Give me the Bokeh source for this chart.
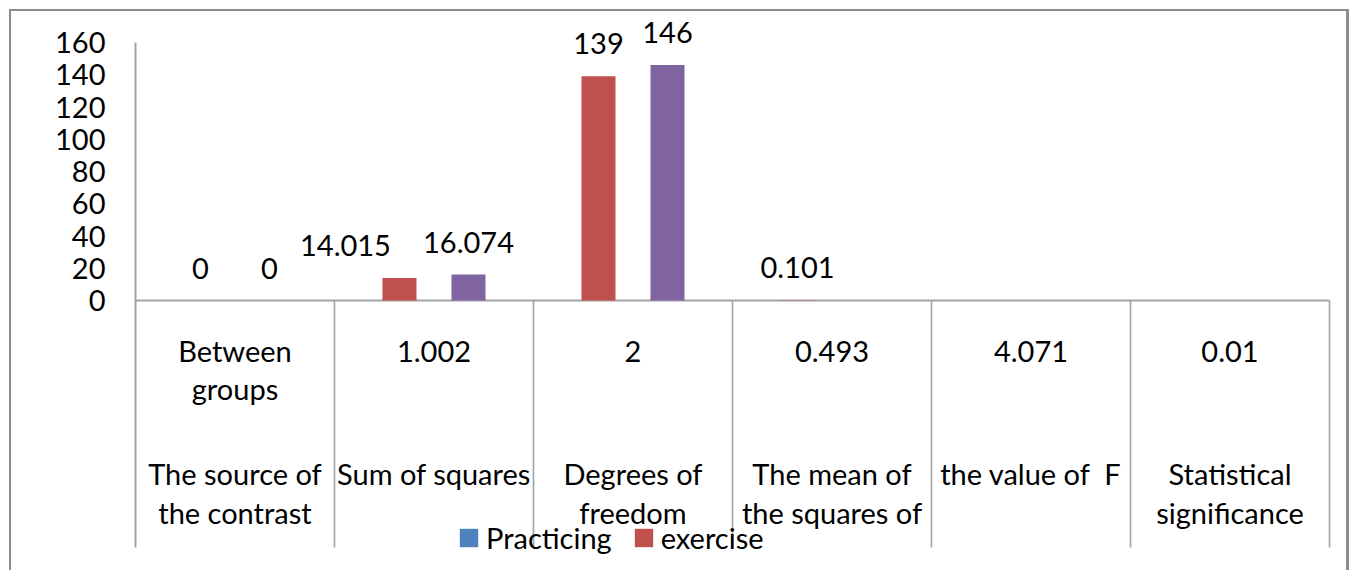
import math
from bokeh.plotting import figure
from bokeh.core.properties import value
from bokeh.models import (ColumnDataSource, FactorRange, Range1d, FixedTicker, LabelSet,
                          Legend, LegendItem)
from bokeh.transform import dodge
from bokeh.embed import file_html
from bokeh.resources import INLINE

nan = float("nan")

# ---- data ----
categories = ["The source of\nthe contrast", "Sum of squares", "Degrees of\nfreedom",
              "The mean of\nthe squares of", "the value of  F", "Statistical\nsignificance"]
practicing_row = ["Between\ngroups", "1.002", "2", "0.493", "4.071", "0.01"]
practicing = [nan, nan, nan, nan, nan, nan]
exercise = [0, 14.015, 139, 0.101, nan, nan]
third_series = [0, 16.074, 146, nan, nan, nan]
y_ticks = [0, 20, 40, 60, 80, 100, 120, 140, 160]

FONT = "Lato"
FS = "29px"
LINE = "#a3a3a3"
BLUE, RED, PURPLE = "#4F81BD", "#C0504D", "#8064A2"

factors = [c.replace("\n", " ") for c in categories]
K = 258 / 160.0              # px per unit
Y_TOP = 160 + 27 / K         # room above for the data labels
Y_BOTTOM = -265 / K          # room below for the legend
Y_TABLE = -247 / K           # bottom of the table lines
PAD = 0.02

p = figure(width=1349, height=570, output_backend="svg", toolbar_location=None,
           x_range=FactorRange(factors=factors, range_padding=PAD, range_padding_units="absolute"),
           y_range=Range1d(Y_BOTTOM, Y_TOP),
           min_border_left=131, min_border_right=16, min_border_top=15, min_border_bottom=5)
p.styles = {"box-shadow": "inset 9px 9px 0 0 #ffffff, inset 11px 11px 0 0 #8c8c8c, "
                          "inset -3px 0 0 0 #8c8c8c"}
p.border_fill_color = None
p.background_fill_color = None
p.outline_line_color = None
p.xgrid.visible = False
p.ygrid.visible = False
p.xaxis.visible = False

ax = p.yaxis[0]
ax.ticker = FixedTicker(ticks=y_ticks)
ax.axis_line_color = None
ax.major_tick_line_color = None
ax.minor_tick_line_color = None
ax.major_tick_out = 0
ax.major_tick_in = 0
ax.minor_tick_out = 0
ax.major_label_standoff = 26
ax.major_label_text_font = FONT
ax.major_label_text_font_size = FS
ax.major_label_text_color = "black"

BAR_W = 0.171
OFF = 0.1734


def series_source(vals):
    return ColumnDataSource(dict(cat=factors, val=vals))


def label_source(vals):
    xs = [f for f, v in zip(factors, vals) if not math.isnan(v)]
    ys = [v for v in vals if not math.isnan(v)]
    txt = [f"{v:g}" for v in ys]
    # the 14.015 label sits moved to the left in the original
    xo = [-54 if t == "14.015" else 0 for t in txt]
    return ColumnDataSource(dict(cat=xs, val=ys, txt=txt, xo=xo))


# table lines: y axis / left edge, top edge, cell separators
first, last = factors[0], factors[-1]
p.segment(x0=dodge("cat", -0.5, range=p.x_range), y0=y_ticks[-1],
          x1=dodge("cat", -0.5, range=p.x_range), y1=Y_TABLE,
          source=ColumnDataSource(dict(cat=[first])), line_color=LINE, line_width=2)
p.segment(x0=dodge("a", -0.5, range=p.x_range), y0=0,
          x1=dodge("b", 0.5, range=p.x_range), y1=0,
          source=ColumnDataSource(dict(a=[first], b=[last])), line_color=LINE, line_width=2)
p.segment(x0=dodge("cat", 0.5, range=p.x_range), y0=0,
          x1=dodge("cat", 0.5, range=p.x_range), y1=Y_TABLE,
          source=ColumnDataSource(dict(cat=factors)), line_color=LINE, line_width=1.6)

r_blue = p.vbar(x=dodge("cat", 0, range=p.x_range), top="val", bottom=0, width=BAR_W,
                source=series_source(practicing), fill_color=BLUE, line_color=None)
r_red = p.vbar(x=dodge("cat", -OFF, range=p.x_range), top="val", bottom=0, width=BAR_W,
               source=series_source(exercise), fill_color=RED, line_color=None)
r_purple = p.vbar(x=dodge("cat", OFF, range=p.x_range), top="val", bottom=0, width=BAR_W,
                  source=series_source(third_series), fill_color=PURPLE, line_color=None)

for vals, off in ((exercise, -OFF), (third_series, OFF)):
    p.add_layout(LabelSet(x=dodge("cat", off, range=p.x_range), y="val", text="txt",
                          source=label_source(vals), x_offset="xo", y_offset=22,
                          text_align="center", text_baseline="alphabetic",
                          text_font=value(FONT), text_font_size=value(FS), text_color="black"))

# two-level category labels
rows = dict(cat=[], txt=[], yo=[])
for f, top, bottom in zip(factors, practicing_row, categories):
    for i, line in enumerate(top.split("\n")):
        rows["cat"].append(f); rows["txt"].append(line); rows["yo"].append(-(61 + 38 * i))
    for i, line in enumerate(bottom.split("\n")):
        rows["cat"].append(f); rows["txt"].append(line.replace("  ", " \u00a0"))
        rows["yo"].append(-(184 + 39 * i))
p.add_layout(LabelSet(x="cat", y=0, text="txt", y_offset="yo", source=ColumnDataSource(rows),
                      text_align="center", text_baseline="alphabetic", text_font=value(FONT),
                      text_font_size=value(FS), text_color="black"))

legend = Legend(items=[LegendItem(label="Practicing", renderers=[r_blue]),
                       LegendItem(label="exercise", renderers=[r_red])],
                orientation="horizontal", location=(326, 10), glyph_width=23, glyph_height=23,
                label_standoff=6, spacing=20, padding=0, margin=0, border_line_color=None,
                background_fill_alpha=0, label_text_font=FONT, label_text_font_size=FS,
                label_text_color="black")
p.add_layout(legend)

open("out.html", "w").write(file_html(p, INLINE))
